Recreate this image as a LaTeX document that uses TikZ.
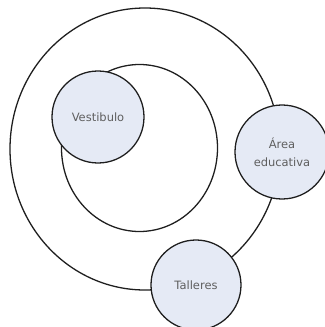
\documentclass[tikz,border=0pt]{standalone}
\usepackage{fontspec}
\setmainfont{DejaVu Sans}

\begin{document}
\begin{tikzpicture}[x=0.03cm,y=-0.03cm,font=\fontsize{9.8}{12}\selectfont]
  \definecolor{ink}{RGB}{30,30,30}
  \definecolor{bubble}{RGB}{229,234,245}
  \definecolor{label}{RGB}{95,95,95}
  \tikzset{room/.style={circle, draw=ink, fill=bubble, line width=1.1pt,
      inner sep=0pt, align=center, text=label}}

  \useasboundingbox (0,0) rectangle (324,327);

  % rings
  \draw[ink, line width=1.1pt] (145,149) ellipse [x radius=135, y radius=141];
  \draw[ink, line width=1.1pt] (139.5,148) ellipse [x radius=78, y radius=83.5];

  % rooms
  \node[room, minimum size=2.76cm] (vestibulo) at (98,117) {Vestibulo};
  \node[room, minimum size=2.82cm] (area) at (282,152) {Área\\[3pt]educativa};
  \node[room, minimum size=2.7cm] (talleres) at (196,285) {Talleres};
\end{tikzpicture}
\end{document}
